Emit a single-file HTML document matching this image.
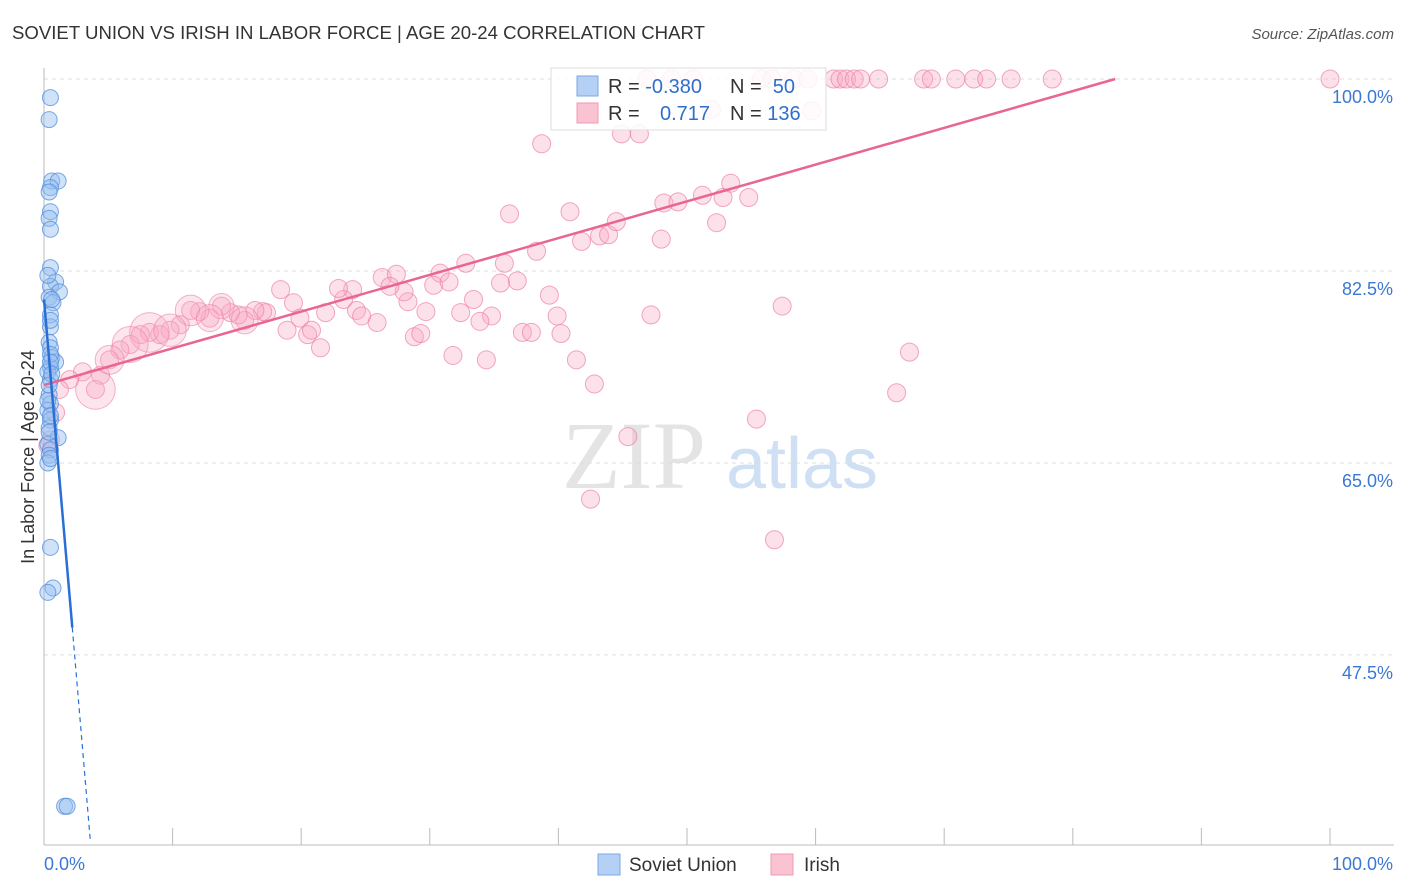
<!DOCTYPE html>
<html><head><meta charset="utf-8">
<style>
body{margin:0;background:#fff;font-family:"Liberation Sans",sans-serif;}
svg{display:block}
</style></head>
<body>
<svg id="chart" width="1406" height="892" xmlns="http://www.w3.org/2000/svg">
<text x="12" y="39" font-size="18.6" fill="#333">SOVIET UNION VS IRISH IN LABOR FORCE | AGE 20-24 CORRELATION CHART</text>
<text x="1394" y="39" font-size="15" fill="#555" font-style="italic" text-anchor="end">Source: ZipAtlas.com</text>
<text x="634" y="488" font-size="96" fill="#e4e4e4" font-family="Liberation Serif,serif" text-anchor="middle">ZIP</text>
<text x="802" y="488" font-size="72" fill="#cfe0f4" text-anchor="middle">atlas</text>
<g id="grid"></g>
<g id="axes"></g>
<g id="pink"></g>
<g id="blue"></g>
<g id="trend"></g>
<text transform="translate(34,457) rotate(-90)" font-size="18" fill="#333" text-anchor="middle">In Labor Force | Age 20-24</text>
<g>
<rect x="551" y="68" width="275" height="62" fill="#fff" fill-opacity="0.85" stroke="#ddd"/>
<rect x="577" y="76" width="21" height="20" fill="#b4d0f4" stroke="#7aa8e6"/>
<rect x="577" y="103" width="21" height="20" fill="#f9c3d2" stroke="#f09ab4"/>
<text x="608" y="93" font-size="20" fill="#333">R = <tspan fill="#2f6fcc">-0.380</tspan></text>
<text x="730" y="93" font-size="20" fill="#333">N = <tspan fill="#2f6fcc">&#160;50</tspan></text>
<text x="608" y="120" font-size="20" fill="#333">R = <tspan fill="#2f6fcc" x="660">0.717</tspan></text>
<text x="730" y="120" font-size="20" fill="#333">N = <tspan fill="#2f6fcc">136</tspan></text>
</g>
<g>
<rect x="598" y="854" width="22" height="21" fill="#b4d0f4" stroke="#7aa8e6"/>
<text x="629" y="871" font-size="19" fill="#333">Soviet Union</text>
<rect x="771" y="854" width="22" height="21" fill="#f9c3d2" stroke="#f09ab4"/>
<text x="804" y="871" font-size="19" fill="#333">Irish</text>
</g>
</svg>
<script>
const yTicks=[47.5,65.0,82.5,100.0];
const yTickLabels=["47.5%","65.0%","82.5%","100.0%"];
const xTickCount=10;
const blueX=[0.5,0.4,0.6,1.1,0.5,0.4,0.5,0.4,0.5,0.5,0.9,0.5,1.2,0.4,0.7,0.5,0.5,0.4,0.5,0.6,0.9,0.5,0.3,0.5,0.4,0.5,0.3,0.5,0.4,1.1,0.3,0.5,0.4,0.3,0.5,0.7,0.3,1.6,1.8,0.5,0.5,0.6,0.3,0.5,0.4,0.6,0.3,0.5,0.4,0.5];
const blueY=[98.3,96.3,90.7,90.7,90.1,89.7,87.9,87.3,86.3,82.8,81.5,81.1,80.6,80.1,79.6,78.5,77.4,76.0,75.5,74.6,74.2,73.7,73.3,72.6,71.2,70.4,69.8,68.9,68.2,67.3,66.7,66.2,65.7,65.0,57.3,53.6,53.2,33.7,33.7,74.9,74.2,73.1,70.7,69.3,67.8,79.9,82.1,65.4,72.1,78.0];
const pinkX=[38.7,36.2,40.9,41.8,43.2,43.9,44.5,48.0,48.2,49.3,51.2,52.8,53.4,54.8,52.3,57.4,47.2,42.5,45.4,55.4,56.8,66.3,67.3,30.8,32.8,35.8,38.3,35.5,36.8,33.4,32.4,34.8,33.9,37.2,37.9,39.9,39.3,40.2,41.4,42.8,31.8,34.4,28.8,29.3,29.7,28.3,28.0,30.3,31.5,26.3,27.4,26.9,24.0,23.3,24.3,24.7,25.9,22.9,21.9,21.5,20.5,20.8,19.9,19.4,18.9,18.4,17.3,17.0,16.4,15.6,15.1,14.5,13.8,12.9,12.1,11.4,10.6,9.8,9.0,8.2,7.5,6.7,5.9,5.1,4.4,4.0,3.0,2.0,1.2,0.9,0.5,0.3,46.9,48.8,50.5,55.8,56.6,58.3,59.4,61.4,61.9,62.4,63.0,63.5,64.9,68.4,69.0,70.9,72.3,73.3,75.2,78.4,100,44.9,46.3,51.9,59.7];
const pinkY=[94.1,87.7,87.9,85.2,85.7,85.8,87.0,85.4,88.7,88.8,89.4,89.2,90.5,89.2,86.9,79.3,78.5,61.7,67.4,69.0,58.0,71.4,75.1,82.3,83.2,83.2,84.3,81.4,81.6,79.9,78.7,78.4,77.9,76.9,76.9,78.4,80.3,76.8,74.4,72.2,74.8,74.4,76.5,76.8,78.8,79.7,80.6,81.2,81.5,81.9,82.2,81.1,80.8,79.9,78.9,78.4,77.8,80.9,78.7,75.5,76.7,77.1,78.2,79.6,77.1,80.8,78.7,78.8,78.9,78.0,78.5,78.7,79.3,78.2,78.8,78.9,77.6,77.1,76.7,76.9,76.7,75.8,75.3,74.4,73.0,71.7,73.3,72.6,71.7,69.6,67.1,66.6,100,100,100,100,100,100,100,100,100,100,100,100,100,100,100,100,100,100,100,100,100,95.0,95.0,97.2,97.1];
const pinkBig=[[8.2,76.9,2.2],[6.7,75.8,2.0],[4.0,71.7,2.2],[11.4,78.9,1.7],[9.8,77.1,1.8],[5.1,74.4,1.6],[13.8,79.3,1.4],[15.6,78.0,1.5],[12.9,78.2,1.5]];
const blueTrend=[[0,79.9],[2.2,50.0]];
const blueTrendDash=[[2.2,50.0],[3.6,30.6]];
const pinkTrend=[[0,72.1],[83.3,100]];

const NS="http://www.w3.org/2000/svg";
const X0=44,X1=1330,Ytop=79,PXPER=10.97;
function sx(v){return X0+(X1-X0)*v/100;}
function sy(v){return Ytop+(100-v)*PXPER;}
function mk(tag,attrs,parent){const e=document.createElementNS(NS,tag);for(const k in attrs)e.setAttribute(k,attrs[k]);document.getElementById(parent).appendChild(e);return e;}

yTicks.forEach((t,i)=>{
  const l=mk('line',{x1:44,x2:1394,y1:sy(t),y2:sy(t),stroke:'#ddd','stroke-dasharray':'4,4'},'grid');
  
  
  const tx=mk('text',{x:1393,y:sy(t)+24,'font-size':18,fill:'#3b78d4','text-anchor':'end'},'axes');
  tx.textContent=yTickLabels[i];
  
  
});
const ya=mk('line',{x1:44,x2:44,y1:68,y2:845,stroke:'#bbb'},'axes');


const xa=mk('line',{x1:44,x2:1394,y1:845,y2:845,stroke:'#bbb'},'axes');


for(let i=1;i<=xTickCount;i++){
  const t=mk('line',{x1:sx(i*10),x2:sx(i*10),y1:828,y2:845,stroke:'#bbb'},'axes');
  
  
}
const xl0=mk('text',{x:44,y:870,'font-size':18,fill:'#3b78d4'},'axes');xl0.textContent='0.0%';


const xl1=mk('text',{x:1393,y:870,'font-size':18,fill:'#3b78d4','text-anchor':'end'},'axes');xl1.textContent='100.0%';



pinkX.forEach((x,i)=>{
  const c=mk('circle',{cx:sx(x),cy:sy(pinkY[i]),r:9,fill:'rgba(248,170,195,0.35)',stroke:'rgba(236,130,165,0.7)','stroke-width':1},'pink');
  
  
});
pinkBig.forEach(p=>{
  const c=mk('circle',{cx:sx(p[0]),cy:sy(p[1]),r:9*p[2],fill:'rgba(248,170,195,0.3)',stroke:'rgba(236,130,165,0.6)','stroke-width':1},'pink');
  
  
});
blueX.forEach((x,i)=>{
  const c=mk('circle',{cx:sx(x),cy:sy(blueY[i]),r:8,fill:'rgba(150,190,240,0.45)',stroke:'rgba(80,140,220,0.75)','stroke-width':1},'blue');
  
  
});
const pt=mk('line',{x1:sx(pinkTrend[0][0]),y1:sy(pinkTrend[0][1]),x2:sx(pinkTrend[1][0]),y2:sy(pinkTrend[1][1]),stroke:'#e8668f','stroke-width':2.5},'trend');


const bt=mk('line',{x1:sx(blueTrend[0][0]),y1:sy(blueTrend[0][1]),x2:sx(blueTrend[1][0]),y2:sy(blueTrend[1][1]),stroke:'#2a6fd6','stroke-width':2.5},'trend');


const bd=mk('line',{x1:sx(blueTrendDash[0][0]),y1:sy(blueTrendDash[0][1]),x2:sx(blueTrendDash[1][0]),y2:sy(blueTrendDash[1][1]),stroke:'#2a6fd6','stroke-width':1.2,'stroke-dasharray':'5,4'},'trend');


</script>
</body></html>
